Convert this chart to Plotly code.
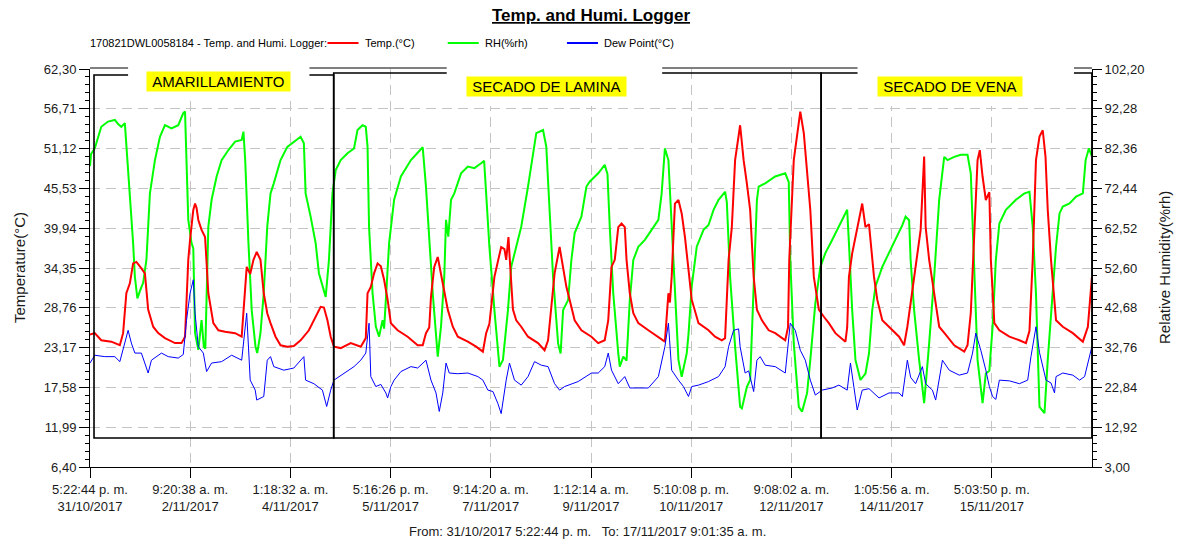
import pandas as pd
import plotly.graph_objects as go

# Logger session
START = pd.Timestamp("2017-10-31 17:22:44")
END = pd.Timestamp("2017-11-17 09:01:35")

# Temperature (°C) — elapsed hours since START and reading
temp_hours = [0.0, 1.9, 4.5, 8.5, 11.9, 13.2, 14.5, 15.9, 17.2, 18.5, 20.5, 21.9, 23.2, 25.2, 27.2,
              29.9, 33.9, 36.5, 37.9, 39.2, 39.9, 41.2, 41.9, 42.5, 43.2, 44.5, 45.9, 46.5, 47.2,
              49.2, 51.2, 53.9, 57.9, 60.5, 61.9, 62.5, 63.9, 65.2, 66.5, 68.0, 69.3, 70.7, 72.0,
              74.0, 76.0, 78.7, 81.3, 84.0, 87.3, 89.3, 92.0, 93.3, 94.7, 96.0, 97.3, 100.0, 104.0,
              108.0, 110.0, 110.7, 112.0, 113.3, 114.7, 116.0, 117.3, 118.7, 120.0, 122.7, 126.7,
              130.7, 132.7, 134.0, 135.3, 136.0, 137.3, 138.7, 140.0, 141.3, 142.7, 144.7, 146.7,
              150.7, 154.0, 156.7, 158.0, 159.3, 161.3, 164.0, 165.3, 166.0, 166.9, 167.7, 168.7,
              170.0, 172.0, 174.7, 178.7, 181.3, 182.7, 184.0, 185.3, 187.3, 188.7, 190.0, 191.3,
              193.3, 196.0, 200.0, 202.7, 205.3, 206.7, 208.0, 209.3, 210.7, 212.0, 213.3, 214.0,
              215.3, 216.7, 218.7, 222.7, 226.7, 229.3, 230.7, 231.3, 232.0, 233.3, 234.7, 236.0,
              237.3, 238.7, 240.0, 242.7, 246.7, 249.3, 252.0, 253.3, 254.7, 256.0, 257.3, 259.3,
              260.7, 262.0, 263.3, 264.7, 266.0, 268.0, 270.7, 273.3, 277.3, 278.4, 278.9, 280.7,
              283.3, 284.7, 286.0, 287.3, 288.7, 290.7, 292.7, 294.7, 297.3, 301.3, 302.0, 302.7,
              304.0, 306.0, 308.0, 309.3, 310.7, 312.7, 314.0, 316.0, 320.0, 322.7, 324.7, 326.0,
              327.3, 328.7, 330.0, 331.3, 332.7, 333.3, 334.7, 336.7, 338.7, 341.3, 344.7, 348.7,
              350.0, 351.3, 352.7, 354.0, 354.9, 356.0, 357.3, 358.7, 359.3, 360.7, 362.7, 366.7,
              370.7, 373.3, 374.7, 376.0, 377.3, 378.7, 380.0, 381.1, 382.0, 383.3, 385.3, 388.0,
              392.0, 396.0, 398.0, 399.6]
temp_values = [25.0, 25.2, 24.2, 24.0, 23.5, 25.2, 30.8, 32.2, 35.0, 35.2, 34.3, 33.6, 28.5, 26.1, 25.2,
               24.5, 23.8, 23.8, 24.7, 35.5, 38.3, 42.5, 43.4, 42.8, 41.1, 39.7, 38.7, 35.5, 30.8,
               26.6, 25.6, 25.4, 25.2, 24.7, 30.8, 34.5, 33.5, 35.5, 36.6, 35.5, 30.8, 28.0, 26.6,
               24.7, 23.5, 23.3, 23.4, 24.2, 25.6, 27.0, 28.9, 28.8, 27.0, 24.7, 23.3, 23.1, 23.8,
               23.3, 24.5, 30.8, 31.7, 33.6, 35.0, 34.6, 32.7, 29.9, 26.6, 25.6, 24.7,
               23.5, 23.5, 25.2, 26.0, 30.3, 34.5, 35.9, 33.6, 30.8, 28.5, 26.1, 24.7,
               24.0, 23.3, 22.6, 25.2, 26.5, 33.1, 37.3, 37.0, 35.5, 38.7, 34.0, 28.5,
               27.0, 26.1, 24.7, 23.8, 22.8, 24.2, 28.9, 33.6, 37.3, 34.5, 31.7, 29.9,
               27.0, 25.6, 24.7, 23.8, 24.2, 27.0, 34.5, 35.5, 40.1, 40.6, 40.1, 35.5,
               30.8, 28.0, 26.6, 25.6, 24.7, 24.0, 30.8, 29.5, 33.1, 43.4, 43.9, 42.0,
               38.7, 34.5, 29.9, 26.6, 25.6, 24.7, 24.2, 24.5, 35.5, 40.1, 49.5, 54.4,
               49.5, 46.2, 42.5, 33.1, 28.5, 27.0, 25.6, 25.2, 24.2, 26.0, 35.5, 49.5,
               56.3, 53.3, 48.1, 42.5, 33.1, 28.5, 27.5, 26.6, 25.2, 24.0, 26.0, 33.1,
               36.4, 40.1, 43.4, 40.1, 40.5, 33.1, 29.9, 27.0, 25.6, 24.7, 23.5, 26.1,
               29.4, 33.1, 36.4, 39.7, 50.0, 40.1, 35.5, 30.8, 26.1, 25.0, 23.5, 22.6,
               23.5, 28.0, 40.1, 49.5, 50.9, 47.2, 43.9, 45.0, 35.5, 26.6, 25.6, 24.7,
               24.2, 23.8, 25.5, 35.5, 49.5, 52.8, 53.7, 50.0, 42.5, 35.5, 27.0, 26.1,
               25.2, 24.0, 26.1, 33.0]

# Relative humidity (%rh)
rh_hours = [0.0, 0.4, 1.9, 4.5, 7.2, 9.9, 11.2, 12.5, 13.9, 14.5, 15.9, 17.2, 17.9, 18.5, 18.9, 20.0,
            21.2, 22.5, 23.9, 25.9, 27.9, 29.9, 32.5, 35.2, 37.2, 37.9, 38.5, 39.2, 40.5, 41.2, 41.9,
            43.2, 44.5, 45.4, 46.0, 46.8, 47.2, 48.5, 50.5, 52.5, 55.2, 57.9, 60.5, 61.2, 61.9, 63.2,
            64.5, 66.0, 66.7, 68.0, 69.3, 70.7, 72.0, 73.3, 76.0, 78.7, 81.3, 84.0, 85.3, 86.0, 88.0,
            90.0, 91.3, 92.7, 94.0, 95.3, 96.7, 98.0, 100.0, 102.7, 105.3, 106.7, 108.7, 110.0, 110.7,
            111.3, 112.7, 114.0, 115.3, 116.7, 117.3, 118.0, 119.3, 121.3, 124.0, 128.0, 132.7, 134.0,
            135.3, 136.7, 138.7, 140.0, 141.3, 142.0, 142.9, 144.0, 145.3, 148.0, 150.7, 153.3, 156.0,
            157.2, 158.0, 159.3, 161.3, 163.3, 164.7, 166.7, 168.0, 169.3, 172.0, 174.7, 176.7, 178.0,
            180.7, 182.0, 183.3, 184.7, 186.7, 187.7, 188.7, 190.7, 192.0, 193.3, 196.0, 198.0, 199.3,
            202.7, 205.3, 206.4, 207.3, 208.7, 210.7, 211.3, 212.7, 214.0, 215.3, 216.7, 218.7, 221.3,
            224.0, 226.7, 228.0, 229.3, 230.7, 232.0, 233.3, 234.7, 236.0, 238.0, 238.7, 240.0, 242.0,
            244.7, 246.7, 248.7, 250.7, 253.3, 254.0, 255.3, 257.3, 259.3, 260.0, 262.0, 263.3, 264.7,
            266.0, 266.7, 269.3, 273.3, 277.3, 278.7, 279.3, 280.7, 282.7, 284.0, 286.0, 287.3, 289.3,
            291.3, 293.3, 296.0, 298.7, 302.0, 302.7, 304.0, 305.3, 307.3, 309.3, 310.7, 312.0, 313.3,
            316.0, 318.7, 321.3, 324.0, 325.3, 326.7, 327.3, 328.7, 330.7, 332.7, 334.7, 336.7, 338.7,
            340.7, 342.0, 344.7, 347.3, 350.0, 351.3, 352.7, 354.0, 356.0, 357.3, 358.7, 360.0, 361.3,
            362.7, 365.3, 369.3, 372.7, 374.7, 376.0, 377.3, 378.7, 380.7, 382.0, 384.0, 385.3, 386.7,
            388.0, 390.7, 393.3, 396.0, 397.1, 398.4, 399.6]
rh_values = [78.0, 81.0, 82.4, 87.8, 89.1, 89.5, 88.5, 87.8, 88.7, 83.7, 71.3, 58.8, 50.4, 46.3, 45.0, 47.0,
             48.9, 54.6, 71.2, 79.5, 85.3, 88.2, 87.4, 88.2, 91.2, 91.6, 79.5, 64.6, 58.8, 57.5, 36.4,
             32.2, 39.6, 33.0, 32.5, 54.6, 62.9, 69.6, 75.4, 79.5, 82.0, 84.1, 84.5, 86.6, 79.5, 58.8,
             42.1, 33.0, 31.4, 36.4, 46.4, 62.9, 71.2, 73.7, 79.5, 82.8, 84.1, 85.3, 83.7, 71.2, 65.4,
             58.8, 51.3, 48.0, 45.4, 54.6, 71.2, 77.0, 79.5, 81.2, 82.4, 87.0, 88.2, 87.8, 82.8,
             62.9, 46.3, 38.0, 35.5, 39.6, 37.5, 44.6, 58.8, 69.6, 75.4, 79.5, 82.7, 72.9,
             58.8, 46.3, 30.5, 38.0, 50.4, 64.6, 60.4, 69.6, 71.2, 76.2, 77.9, 77.5, 78.7,
             79.3, 71.2, 57.9, 42.1, 28.0, 29.7, 42.1, 52.9, 56.3, 62.9, 72.9, 80.3, 86.2,
             87.0, 82.8, 67.1, 50.4, 33.8, 31.3, 42.1, 44.6, 54.6, 61.3, 65.4, 72.9, 74.1,
             76.2, 78.3, 76.0, 62.9, 46.3, 31.3, 28.0, 30.5, 29.5, 44.6, 54.6, 57.9, 59.6,
             62.1, 64.6, 71.2, 82.4, 79.5, 62.9, 46.3, 29.7, 25.5, 31.3, 36.0, 48.0, 57.9,
             62.1, 63.3, 67.1, 69.6, 71.6, 69.0, 50.4, 33.0, 18.0, 17.6, 23.0, 24.7, 46.3,
             69.6, 72.9, 73.7, 75.4, 76.2, 74.0, 54.6, 33.8, 18.0, 16.8, 21.4, 29.7, 43.8,
             52.9, 56.3, 59.6, 62.9, 67.1, 58.8, 42.1, 29.7, 24.7, 26.3, 31.3, 42.1, 48.0,
             52.9, 56.3, 59.6, 63.3, 65.4, 64.5, 54.6, 42.1, 29.7, 18.9, 33.8, 50.4, 69.6,
             80.3, 79.5, 80.3, 80.8, 80.8, 76.2, 50.4, 29.7, 18.9, 26.3, 27.0, 38.0, 54.6,
             63.7, 67.1, 69.6, 71.2, 71.6, 62.9, 46.3, 18.0, 16.4, 29.7, 46.3, 57.9, 66.2,
             67.9, 68.7, 70.4, 71.2, 79.5, 82.4, 80.5]

# Dew point (°C)
dew_hours = [0.0, 1.9, 5.9, 9.9, 11.9, 13.2, 15.2, 16.5, 17.9, 20.5, 23.2, 24.5, 28.5, 31.2, 35.2, 37.2,
             38.5, 39.9, 41.2, 41.9, 43.2, 45.2, 46.5, 48.5, 52.5, 56.5, 60.5, 62.5, 63.9, 65.9, 66.5,
             69.3, 70.7, 72.0, 73.3, 77.3, 81.3, 85.3, 86.0, 89.3, 92.7, 94.4, 96.0, 97.3, 101.3, 105.3,
             108.0, 110.0, 111.3, 112.0, 114.0, 116.0, 118.0, 118.7, 120.0, 121.3, 124.0, 128.0, 130.7,
             134.0, 136.0, 138.0, 139.3, 140.7, 142.0, 143.3, 146.7, 150.7, 154.7, 156.7, 158.7, 160.7,
             162.7, 164.0, 166.0, 167.3, 169.3, 172.0, 174.7, 177.3, 180.0, 182.7, 185.3, 187.3, 189.3,
             192.0, 194.7, 200.0, 202.7, 205.3, 206.7, 208.0, 210.7, 213.3, 215.3, 218.7, 222.7, 226.7,
             229.3, 230.7, 232.0, 234.7, 236.7, 238.7, 240.0, 242.7, 246.7, 250.7, 253.3, 254.7, 256.7,
             258.7, 259.3, 261.3, 262.7, 264.7, 266.0, 267.3, 269.3, 273.3, 277.3, 279.3, 281.3, 283.3,
             285.3, 287.3, 289.3, 292.0, 296.0, 298.7, 302.0, 303.3, 304.7, 306.0, 308.0, 310.7, 314.7,
             318.7, 322.7, 324.0, 326.0, 327.3, 329.3, 332.0, 333.3, 336.0, 337.3, 340.0, 342.7, 346.7,
             350.0, 352.0, 353.3, 355.3, 357.3, 358.7, 360.0, 361.3, 362.7, 366.7, 370.7, 374.0, 375.3,
             377.3, 378.7, 381.3, 383.3, 384.7, 385.3, 388.0, 392.0, 394.7, 396.7, 398.7, 399.6]
dew_values = [21.0, 22.1, 21.9, 21.9, 21.2, 22.8, 25.6, 23.8, 22.4, 22.4, 19.6, 21.4, 22.4, 21.9, 21.7, 22.2,
              27.0, 30.8, 32.7, 28.0, 23.3, 22.4, 19.8, 21.0, 21.2, 22.1, 21.4, 28.0, 18.6, 17.2, 15.8,
              16.3, 21.4, 21.9, 20.5, 20.0, 20.3, 21.9, 18.6, 18.1, 17.2, 14.9, 17.2, 18.6, 19.6, 20.5,
              21.4, 22.4, 26.6, 19.1, 17.7, 18.0, 16.8, 16.1, 17.7, 18.6, 19.8, 20.5, 20.3,
              21.4, 18.6, 16.8, 14.2, 16.8, 21.0, 19.6, 19.5, 19.6, 19.1, 18.6, 17.2, 17.0,
              15.3, 13.9, 18.6, 21.0, 18.6, 17.9, 19.1, 21.2, 20.7, 20.5, 18.1, 17.2, 17.7,
              18.1, 18.4, 19.6, 19.6, 20.5, 22.4, 20.0, 18.1, 19.1, 17.5, 17.5, 17.5, 19.1,
              23.3, 26.6, 20.0, 18.6, 17.7, 16.3, 17.7, 17.9, 18.4, 19.1, 20.5, 23.3, 25.6,
              25.8, 23.3, 19.6, 19.9, 17.0, 21.4, 21.9, 20.7, 20.5, 19.6, 26.6, 25.6, 22.8,
              21.4, 18.6, 16.5, 17.2, 17.5, 17.9, 17.2, 21.0, 17.7, 14.4, 17.2, 17.4, 16.1,
              16.8, 16.8, 16.3, 21.4, 19.0, 18.1, 20.5, 18.1, 17.2, 15.8, 21.4, 20.0, 19.3,
              19.6, 22.4, 25.2, 22.8, 20.0, 17.7, 16.3, 15.9, 18.6, 18.5, 18.1, 18.6, 21.9,
              26.1, 22.5, 18.6, 18.2, 16.8, 19.1, 19.6, 19.3, 18.6, 19.1, 21.9, 23.3]

# Axis ticks
TEMP_TICKS = [6.40, 11.99, 17.58, 23.17, 28.76, 34.35, 39.94, 45.53, 51.12, 56.71, 62.30]
RH_TICKS = [3.00, 12.92, 22.84, 32.76, 42.68, 52.60, 62.52, 72.44, 82.36, 92.28, 102.20]
X_TICK_TIMES = ["2017-10-31 17:22:44", "2017-11-02 09:20:38", "2017-11-04 01:18:32",
                "2017-11-05 17:16:26", "2017-11-07 09:14:20", "2017-11-09 01:12:14",
                "2017-11-10 17:10:08", "2017-11-12 09:08:02", "2017-11-14 01:05:56",
                "2017-11-15 17:03:50"]
X_TICK_TEXT = ["5:22:44 p. m.<br>31/10/2017", "9:20:38 a. m.<br>2/11/2017", "1:18:32 a. m.<br>4/11/2017",
               "5:16:26 p. m.<br>5/11/2017", "9:14:20 a. m.<br>7/11/2017", "1:12:14 a. m.<br>9/11/2017",
               "5:10:08 p. m.<br>10/11/2017", "9:08:02 a. m.<br>12/11/2017", "1:05:56 a. m.<br>14/11/2017",
               "5:03:50 p. m.<br>15/11/2017"]

# Process phases (elapsed hours)
PHASE_NAMES = ["AMARILLAMIENTO", "SECADO DE LAMINA", "SECADO DE VENA"]
PHASE_START_H = [1.6, 97.2, 291.6]
PHASE_END_H = [97.2, 291.6, 399.6]


def to_time(hours):
    return [START + pd.Timedelta(hours=h) for h in hours]


FONT = "Arial, 'Liberation Sans', sans-serif"
GRID = "#c4c4c4"

fig = go.Figure()
fig.add_trace(go.Scatter(x=to_time(rh_hours), y=rh_values, mode="lines", name="RH(%rh)",
                         line=dict(color="#00ff00", width=2), yaxis="y"))
fig.add_trace(go.Scatter(x=to_time(temp_hours), y=temp_values, mode="lines", name="Temp.(°C)",
                         line=dict(color="#ff0000", width=2), yaxis="y2"))
fig.add_trace(go.Scatter(x=to_time(dew_hours), y=dew_values, mode="lines", name="Dew Point(°C)",
                         line=dict(color="#0000ff", width=1), yaxis="y2"))

shapes = []
# plot frame top edge
shapes.append(dict(type="line", xref="paper", yref="paper", x0=0, x1=1, y0=1.0025, y1=1.0025,
                   line=dict(color="black", width=1)))
# phase boxes
box_tops = [0.985, 0.99, 0.99]
for i in range(len(PHASE_NAMES)):
    x0 = START + pd.Timedelta(hours=PHASE_START_H[i])
    x1 = START + pd.Timedelta(hours=PHASE_END_H[i])
    shapes.append(dict(type="rect", xref="x", yref="paper", x0=x0, x1=x1, y0=0.0729, y1=box_tops[i],
                       line=dict(color="black", width=1.6), fillcolor="rgba(0,0,0,0)", layer="above"))
# white label panels
panels = [(0.038, 0.219, 0.9196), (0.356, 0.571, 0.907), (0.766, 0.982, 0.907)]
for px0, px1, py0 in panels:
    shapes.append(dict(type="rect", xref="paper", yref="paper", x0=px0, x1=px1, y0=py0, y1=1.03,
                       line=dict(width=0), fillcolor="white", layer="above"))

# legend swatches
legend_items = [("Temp.(°C)", "#ff0000", 0.237), ("RH(%rh)", "#00ff00", 0.357), ("Dew Point(°C)", "#0000ff", 0.476)]
LEG_Y = (467 - 43) / 398
for label, color, lx in legend_items:
    shapes.append(dict(type="line", xref="paper", yref="paper", x0=lx, x1=lx + 0.031, y0=LEG_Y, y1=LEG_Y,
                       line=dict(color=color, width=2)))

annotations = [
    dict(text="<b><u>Temp. and Humi. Logger</u></b>", xref="paper", yref="paper", x=0.5, y=(467 - 16) / 398,
         showarrow=False, font=dict(size=17, family=FONT, color="black"), xanchor="center", yanchor="middle"),
    dict(text="170821DWL0058184 - Temp. and Humi. Logger:", xref="paper", yref="paper", x=-0.002, y=LEG_Y,
         showarrow=False, font=dict(size=11, family=FONT, color="black"), xanchor="left", yanchor="middle"),
    dict(text="From: 31/10/2017 5:22:44 p. m.   To: 17/11/2017 9:01:35 a. m.", xref="paper", yref="paper",
         x=0.497, y=(467 - 531) / 398, showarrow=False, font=dict(size=13, family=FONT, color="#1a1a1a"),
         xanchor="center", yanchor="middle"),
    dict(text="Temperature(°C)", xref="paper", yref="paper", x=(19 - 90) / 1002, y=0.5, textangle=-90,
         showarrow=False, font=dict(size=15, family=FONT, color="#1a1a1a"), xanchor="center", yanchor="middle"),
    dict(text="Relative Humidity(%rh)", xref="paper", yref="paper", x=(1164 - 90) / 1002, y=0.5, textangle=-90,
         showarrow=False, font=dict(size=15, family=FONT, color="#1a1a1a"), xanchor="center", yanchor="middle"),
]
for label, color, lx in legend_items:
    annotations.append(dict(text=label, xref="paper", yref="paper", x=lx + 0.035, y=LEG_Y, showarrow=False,
                            font=dict(size=11, family=FONT, color="black"), xanchor="left", yanchor="middle"))

label_pos = [(0.128, (467 - 81) / 398), (0.4555, (467 - 86.5) / 398), (0.858, (467 - 86.5) / 398)]
for name, (lx, ly) in zip(PHASE_NAMES, label_pos):
    annotations.append(dict(text="\u00a0" + name + "\u00a0", xref="paper", yref="paper", x=lx, y=ly,
                            showarrow=False, bgcolor="#ffff00", borderpad=1,
                            font=dict(size=15, family=FONT, color="black"), xanchor="center", yanchor="middle"))

fig.update_layout(
    width=1179, height=540,
    margin=dict(l=90, r=87, t=69, b=73),
    paper_bgcolor="white", plot_bgcolor="white",
    separators=",.",
    showlegend=False,
    font=dict(family=FONT, size=13, color="#1a1a1a"),
    xaxis=dict(type="date", range=[START, END], tickmode="array", tickvals=X_TICK_TIMES, ticktext=X_TICK_TEXT,
               tickangle=0, showgrid=True, gridcolor=GRID, griddash="10px,6px", gridwidth=1,
               showline=True, linecolor="black", linewidth=1, ticks="outside", ticklen=10,
               tickcolor="black", zeroline=False, tickfont=dict(size=13)),
    yaxis=dict(range=[3.0, 102.2], side="right", tickmode="array", tickvals=RH_TICKS, tickformat=".2f",
               showgrid=True, gridcolor=GRID, griddash="10px,6px", gridwidth=1, zeroline=False,
               showline=True, linecolor="black", linewidth=1, ticks="outside", ticklen=9, tickcolor="black",
               tickfont=dict(size=13),
               minor=dict(ticks="outside", ticklen=4, tick0=3.0, dtick=1.984, tickcolor="black", showgrid=False)),
    yaxis2=dict(range=[6.40, 62.30], side="left", overlaying="y", tickmode="array", tickvals=TEMP_TICKS,
                tickformat=".2f", showgrid=False, zeroline=False, showline=True, linecolor="black", linewidth=1,
                ticks="outside", ticklen=10, tickcolor="black", tickfont=dict(size=13),
                minor=dict(ticks="outside", ticklen=4, tick0=6.40, dtick=1.118, tickcolor="black",
                           showgrid=False)),
    shapes=shapes,
    annotations=annotations,
)

fig.write_html("out.html")
